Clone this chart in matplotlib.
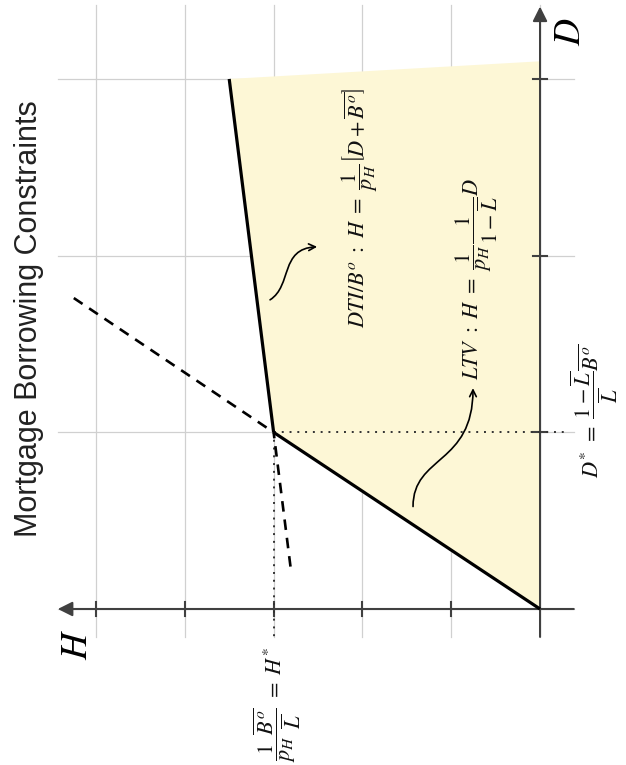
import matplotlib.pyplot as plt
from matplotlib.patches import FancyArrowPatch, Polygon
from matplotlib.path import Path

plt.rcParams['mathtext.fontset'] = 'stix'

# H on the (reversed) horizontal axis, D on the vertical axis
h_grid = [0, 1, 2, 3, 4, 5]
d_grid = [0, 1, 2, 3]
h_ticks = [1, 2, 3, 4, 5]
d_ticks = [1, 2, 3]

# constraint lines (H, D)
ltv_h = [0, 3]
ltv_d = [0, 1]
ltv_ext_h = [5.25, 3]
ltv_ext_d = [1.76, 1]
dti_h = [3, 3.5]
dti_d = [1, 3]
dti_ext_h = [2.81, 3]
dti_ext_d = [0.24, 1]

# feasible region
fill_h = [0, 3, 3.5, 0]
fill_d = [0, 1, 3, 3.1]

h_star, d_star = 3, 1

# curved pointer arrows (bezier control points)
dti_arrow = [(3.04, 1.75), (2.79, 1.83), (2.93, 2.04), (2.51, 2.05)]
ltv_arrow = [(1.43, 0.58), (1.43, 0.87), (0.755, 0.815), (0.755, 1.25)]

fig = plt.figure(figsize=(6.26, 7.65), dpi=100)
ax = fig.add_axes([0, 0, 1, 1])
ax.set_xlim(6.081, -0.968)
ax.set_ylim(-0.883, 3.447)
ax.axis('off')

grid_c = '#d0d0d0'
axis_c = '#404040'

# grid
for h in h_grid:
    ax.plot([h, h], [-0.158, 3.42], color=grid_c, lw=0.9, zorder=1)
for d in d_grid:
    ax.plot([5.43, -0.38], [d, d], color=grid_c, lw=0.9, zorder=1)

# shaded region
ax.add_patch(Polygon(list(zip(fill_h, fill_d)), closed=True,
                     facecolor='#fdf7d6', edgecolor='none', zorder=2))

# axes with arrow heads
ax.add_patch(FancyArrowPatch((-0.38, 0), (5.43, 0), arrowstyle='-|>',
                             mutation_scale=22, color=axis_c, lw=1.5,
                             shrinkA=0, shrinkB=0, zorder=3))
ax.add_patch(FancyArrowPatch((0, -0.158), (0, 3.41), arrowstyle='-|>',
                             mutation_scale=22, color=axis_c, lw=1.5,
                             shrinkA=0, shrinkB=0, zorder=3))
for h in h_ticks:
    ax.plot([h, h], [-0.04, 0.04], color=axis_c, lw=1.5, zorder=3)
for d in d_ticks:
    ax.plot([-0.08, 0.08], [d, d], color=axis_c, lw=1.5, zorder=3)

# dotted guides
ax.plot([h_star, -0.27], [d_star, d_star], color='#333333', lw=1.4,
        ls=(0, (1, 3)), zorder=3)
ax.plot([h_star, h_star], [d_star, -0.17], color='#333333', lw=1.4,
        ls=(0, (1, 3)), zorder=3)

# constraint lines
ax.plot(ltv_h, ltv_d, color='black', lw=2.3, zorder=4, solid_capstyle='butt')
ax.plot(dti_h, dti_d, color='black', lw=2.3, zorder=4, solid_capstyle='butt')
ax.plot(ltv_ext_h, ltv_ext_d, color='black', lw=1.9, ls=(0, (4, 3)), zorder=4)
ax.plot(dti_ext_h, dti_ext_d, color='black', lw=1.9, ls=(0, (4, 3)), zorder=4)

# curved arrows
codes = [Path.MOVETO, Path.CURVE4, Path.CURVE4, Path.CURVE4]
for pts in [dti_arrow, ltv_arrow]:
    ax.add_patch(FancyArrowPatch(path=Path(pts, codes), arrowstyle='->',
                                 mutation_scale=12, color='black', lw=1.2,
                                 zorder=5))

# labels
lab = dict(rotation=90, ha='center', va='center', fontsize=16, zorder=6,
           color='#111111')
ax.text(2.03, 2.27,
        r'$DTI/B^o\ :\ H\ =\ \dfrac{1}{p_H}\left[D+\overline{B^o}\right]$', **lab)
ax.text(0.71, 1.87,
        r'$LTV\ :\ H\ =\ \dfrac{1}{p_H}\dfrac{1}{1-\overline{L}}D$', **lab)
ax.text(-0.61, 1.12,
        r'$D^{*}\ =\ \dfrac{1-\overline{L}}{\overline{L}}\overline{B^o}$', **lab)
ax.text(2.96, -0.54,
        r'$\dfrac{1}{p_H}\dfrac{\overline{B^o}}{\overline{L}}\ =\ H^{*}$', **lab)
ax.text(5.21, -0.2, r'$H$', rotation=90, ha='center', va='center',
        fontsize=27)
ax.text(-0.34, 3.265, r'$D$', rotation=90, ha='center', va='center',
        fontsize=27)

fig.text(0.046, 0.584, 'Mortgage Borrowing Constraints', rotation=90,
         ha='center', va='center', fontsize=22, color='#222222',
         family=['Liberation Sans', 'DejaVu Sans'])

fig.savefig('out.png', dpi=100)
